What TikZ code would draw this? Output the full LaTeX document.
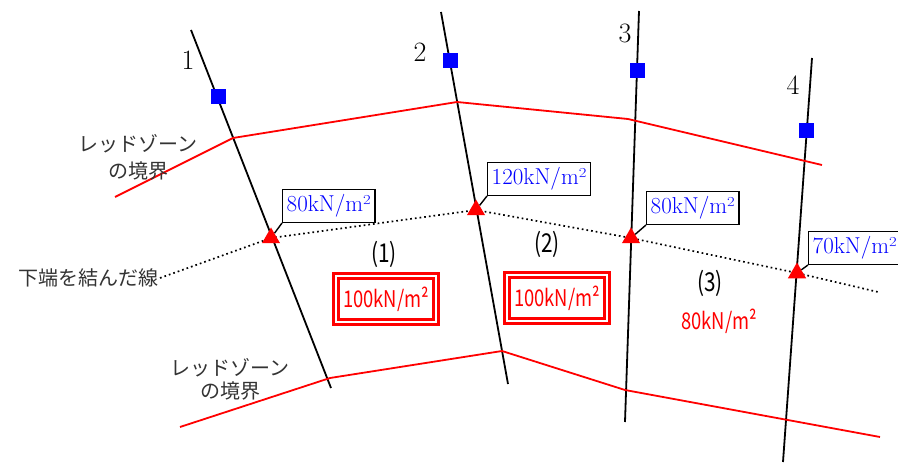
\documentclass[tikz,border=0pt]{standalone}
\usepackage{fontspec}
\newfontfamily\jpfont{Noto Sans CJK JP}
\newfontfamily\jpnarrow[FakeStretch=0.8]{Noto Sans CJK JP}
\usetikzlibrary{shapes.geometric}

\begin{document}
\begin{tikzpicture}[
    x=1pt, y=-1pt,
    pole/.style={line width=1.8pt},
    zone/.style={red, line width=1.8pt},
    lowline/.style={line width=1.7pt, dash pattern=on 1.7pt off 3pt},
    sensor/.style={fill=blue, minimum size=15pt, inner sep=0pt},
    tri/.style={regular polygon, regular polygon sides=3, fill=red, inner sep=0pt, minimum size=21pt},
    val/.style={draw, line width=1.4pt, fill=white, text=blue, anchor=south west, minimum height=33pt,
        inner xsep=4pt, font=\fontsize{23}{26}\selectfont},
    lead/.style={line width=1.4pt},
    load/.style={draw=red, double=white, line width=2.4pt, double distance=2.6pt, text=red,
        minimum width=100pt, minimum height=46pt, font=\jpnarrow\fontsize{23}{26}\selectfont},
    area/.style={font=\jpnarrow\fontsize{26}{28}\selectfont},
    jp/.style={text=black!80, align=center},
    num/.style={font=\fontsize{28}{30}\selectfont}
]
\useasboundingbox (0,0) rectangle (898,468);

% poles
\coordinate (p1t) at (191,30);  \coordinate (p1b) at (331,388);
\coordinate (p2t) at (441,12);  \coordinate (p2b) at (508,384);
\coordinate (p3t) at (639,11);  \coordinate (p3b) at (625,422);
\coordinate (p4t) at (812,58);  \coordinate (p4b) at (783,462);
\draw[pole] (p1t) -- (p1b);
\draw[pole] (p2t) -- (p2b);
\draw[pole] (p3t) -- (p3b);
\draw[pole] (p4t) -- (p4b);

\node[num] (n1) at (188,60) {1};
\node[num] (n2) at (420,52) {2};
\node[num] (n3) at (625,33) {3};
\node[num] (n4) at (793,85) {4};

% red zone boundaries
\draw[zone] (115,197) -- (233,138) -- (457,102) -- (628,119) -- (822,165);
\draw[zone] (180,427) -- (330,378) -- (502,351) -- (625,390) -- (880,437);

\node[jp, font=\jpfont\fontsize{20}{27}\selectfont] (zu) at (138,157) {レッドゾーン\\の境界};
\node[jp, font=\jpfont\fontsize{20}{23}\selectfont] (zl) at (230,379) {レッドゾーン\\の境界};

% line along the lower ends
\coordinate (d0) at (160,278);
\coordinate (c1) at (271,238);
\coordinate (c2) at (476,210);
\coordinate (c3) at (631,238);
\coordinate (c4) at (797,273);
\coordinate (d5) at (878,292);
\draw[lowline] (d0) -- (c1) -- (c2) -- (c3) -- (c4) -- (d5);
\node[jp, anchor=east, inner sep=1pt, font=\jpfont\fontsize{20}{24}\selectfont] (low) at (d0) {下端を結んだ線};

\node[tri] (t1) at (c1) {};
\node[tri] (t2) at (c2) {};
\node[tri] (t3) at (c3) {};
\node[tri] (t4) at (c4) {};

% sensors
\node[sensor] (s1) at (218,97) {};
\node[sensor] (s2) at (450,61) {};
\node[sensor] (s3) at (637,71) {};
\node[sensor] (s4) at (806,131) {};

% values at the lower ends
\node[val] (v1) at (282,223) {80kN/m²};
\node[val] (v2) at (487,196) {120kN/m²};
\node[val] (v3) at (646,225) {80kN/m²};
\node[val] (v4) at (808,265) {70kN/m²};
\draw[lead] (v1.south west) -- (t1);
\draw[lead] (v2.south west) -- (t2);
\draw[lead] (v3.south west) -- (t3);
\draw[lead] (v4.south west) -- (t4);

% areas
\node[area] (a1) at (384,254) {(1)};
\node[area] (a2) at (547,244) {(2)};
\node[area] (a3) at (710,283) {(3)};
\node[load] (l1) at (386,299) {100kN/m²};
\node[load] (l2) at (557,298) {100kN/m²};
\node[text=red, font=\jpnarrow\fontsize{23}{26}\selectfont] (l3) at (719,321) {80kN/m²};
\end{tikzpicture}
\end{document}
